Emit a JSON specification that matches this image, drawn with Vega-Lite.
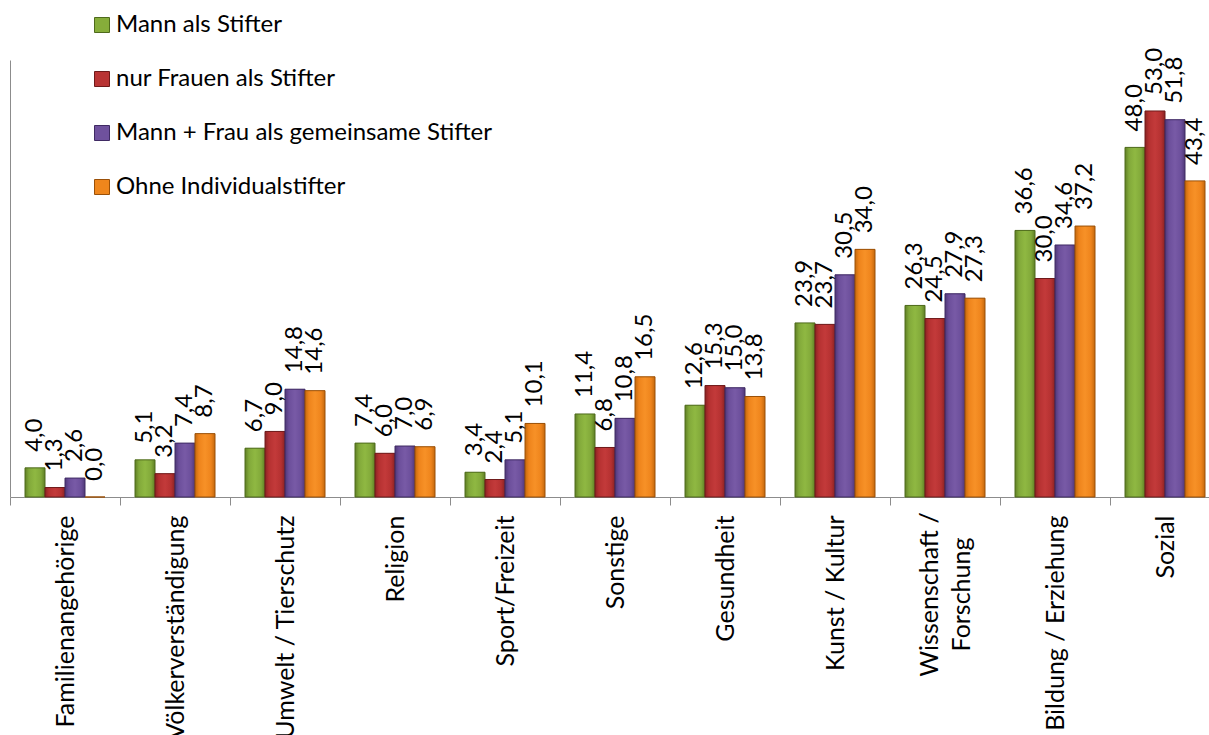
{
  "$schema": "https://vega.github.io/schema/vega-lite/v6.json",
  "width": 1210,
  "height": 437,
  "autosize": {"type": "none"},
  "padding": {"left": 10, "top": 60, "right": 0, "bottom": 238},
  "background": "white",
  "config": {
    "view": {"stroke": null},
    "font": "Lato",
    "locale": {"number": {"decimal": ",", "thousands": ".", "grouping": [3], "currency": ["", " €"]}}
  },
  "data": {
    "values": [
      {"cat": "Familienangehörige", "series": "Mann als Stifter", "v": 4.0},
      {"cat": "Familienangehörige", "series": "nur Frauen als Stifter", "v": 1.3},
      {"cat": "Familienangehörige", "series": "Mann + Frau als gemeinsame Stifter", "v": 2.6},
      {"cat": "Familienangehörige", "series": "Ohne Individualstifter", "v": 0.0},
      {"cat": "Völkerverständigung", "series": "Mann als Stifter", "v": 5.1},
      {"cat": "Völkerverständigung", "series": "nur Frauen als Stifter", "v": 3.2},
      {"cat": "Völkerverständigung", "series": "Mann + Frau als gemeinsame Stifter", "v": 7.4},
      {"cat": "Völkerverständigung", "series": "Ohne Individualstifter", "v": 8.7},
      {"cat": "Umwelt / Tierschutz", "series": "Mann als Stifter", "v": 6.7},
      {"cat": "Umwelt / Tierschutz", "series": "nur Frauen als Stifter", "v": 9.0},
      {"cat": "Umwelt / Tierschutz", "series": "Mann + Frau als gemeinsame Stifter", "v": 14.8},
      {"cat": "Umwelt / Tierschutz", "series": "Ohne Individualstifter", "v": 14.6},
      {"cat": "Religion", "series": "Mann als Stifter", "v": 7.4},
      {"cat": "Religion", "series": "nur Frauen als Stifter", "v": 6.0},
      {"cat": "Religion", "series": "Mann + Frau als gemeinsame Stifter", "v": 7.0},
      {"cat": "Religion", "series": "Ohne Individualstifter", "v": 6.9},
      {"cat": "Sport/Freizeit", "series": "Mann als Stifter", "v": 3.4},
      {"cat": "Sport/Freizeit", "series": "nur Frauen als Stifter", "v": 2.4},
      {"cat": "Sport/Freizeit", "series": "Mann + Frau als gemeinsame Stifter", "v": 5.1},
      {"cat": "Sport/Freizeit", "series": "Ohne Individualstifter", "v": 10.1},
      {"cat": "Sonstige", "series": "Mann als Stifter", "v": 11.4},
      {"cat": "Sonstige", "series": "nur Frauen als Stifter", "v": 6.8},
      {"cat": "Sonstige", "series": "Mann + Frau als gemeinsame Stifter", "v": 10.8},
      {"cat": "Sonstige", "series": "Ohne Individualstifter", "v": 16.5},
      {"cat": "Gesundheit", "series": "Mann als Stifter", "v": 12.6},
      {"cat": "Gesundheit", "series": "nur Frauen als Stifter", "v": 15.3},
      {"cat": "Gesundheit", "series": "Mann + Frau als gemeinsame Stifter", "v": 15.0},
      {"cat": "Gesundheit", "series": "Ohne Individualstifter", "v": 13.8},
      {"cat": "Kunst / Kultur", "series": "Mann als Stifter", "v": 23.9},
      {"cat": "Kunst / Kultur", "series": "nur Frauen als Stifter", "v": 23.7},
      {"cat": "Kunst / Kultur", "series": "Mann + Frau als gemeinsame Stifter", "v": 30.5},
      {"cat": "Kunst / Kultur", "series": "Ohne Individualstifter", "v": 34.0},
      {"cat": "Wissenschaft / Forschung", "series": "Mann als Stifter", "v": 26.3},
      {"cat": "Wissenschaft / Forschung", "series": "nur Frauen als Stifter", "v": 24.5},
      {"cat": "Wissenschaft / Forschung", "series": "Mann + Frau als gemeinsame Stifter", "v": 27.9},
      {"cat": "Wissenschaft / Forschung", "series": "Ohne Individualstifter", "v": 27.3},
      {"cat": "Bildung / Erziehung", "series": "Mann als Stifter", "v": 36.6},
      {"cat": "Bildung / Erziehung", "series": "nur Frauen als Stifter", "v": 30.0},
      {"cat": "Bildung / Erziehung", "series": "Mann + Frau als gemeinsame Stifter", "v": 34.6},
      {"cat": "Bildung / Erziehung", "series": "Ohne Individualstifter", "v": 37.2},
      {"cat": "Sozial", "series": "Mann als Stifter", "v": 48.0},
      {"cat": "Sozial", "series": "nur Frauen als Stifter", "v": 53.0},
      {"cat": "Sozial", "series": "Mann + Frau als gemeinsame Stifter", "v": 51.8},
      {"cat": "Sozial", "series": "Ohne Individualstifter", "v": 43.4}
    ]
  },
  "encoding": {
    "x": {
      "field": "cat", "type": "nominal", "sort": null,
      "scale": {"paddingInner": 0, "paddingOuter": 0},
      "axis": {
        "title": null, "tickBand": "extent", "labelAngle": 270, "labelBaseline": "middle",
        "labelAlign": {"condition": {"test": "datum.value == 'Wissenschaft / Forschung'", "value": "center"}, "value": "right"},
        "labelPadding": {"condition": {"test": "datum.value == 'Wissenschaft / Forschung'", "value": 89}, "value": 10},
        "labelOffset": {"condition": {"test": "datum.value == 'Wissenschaft / Forschung'", "value": -16}, "value": 0},
        "labelFontSize": 25, "labelLineHeight": 32, "labelColor": "black", "labelLimit": 0,
        "domainColor": "#8c8c8c", "tickColor": "#8c8c8c", "tickSize": 8, "grid": false,
        "labelExpr": "datum.value == 'Wissenschaft / Forschung' ? ['Wissenschaft /', 'Forschung'] : datum.value"
      }
    },
    "xOffset": {
      "field": "series", "type": "nominal", "sort": ["Mann als Stifter", "nur Frauen als Stifter", "Mann + Frau als gemeinsame Stifter", "Ohne Individualstifter"],
      "scale": {"paddingInner": 0, "paddingOuter": 0.75}
    },
    "y": {
      "field": "v", "type": "quantitative",
      "scale": {"domain": [0, 60], "nice": false, "zero": true},
      "axis": {"title": null, "labels": false, "ticks": false, "grid": false, "domainColor": "#8c8c8c"}
    }
  },
  "layer": [
    {
      "mark": {"type": "bar", "strokeWidth": 0},
      "encoding": {
        "color": {
          "field": "series", "type": "nominal",
          "sort": ["Mann als Stifter", "nur Frauen als Stifter", "Mann + Frau als gemeinsame Stifter", "Ohne Individualstifter"],
          "scale": {"domain": ["Mann als Stifter", "nur Frauen als Stifter", "Mann + Frau als gemeinsame Stifter", "Ohne Individualstifter"],
                    "range": ["#86ad3a", "#b93434", "#6f519d", "#ef861c"]},
          "legend": {
            "title": null, "orient": "none", "legendX": 80, "legendY": -47, "direction": "vertical",
            "symbolType": "square", "symbolSize": 225, "symbolStrokeWidth": 1, "symbolStrokeColor": "#444444",
            "labelFontSize": 24, "labelColor": "black", "labelOffset": 2, "rowPadding": 30, "labelLimit": 0
          }
        }
      }
    },
    {
      "mark": {"type": "bar", "strokeWidth": 1},
      "encoding": {
        "fill": {
          "condition": [
            {"test": "datum.series == 'Mann als Stifter'", "value": {"gradient": "linear", "x1": 0, "y1": 0, "x2": 1, "y2": 0, "stops": [{"offset": 0, "color": "#5f7f24"}, {"offset": 0.2, "color": "#82a93a"}, {"offset": 0.5, "color": "#8fb842"}, {"offset": 0.8, "color": "#82a93a"}, {"offset": 1, "color": "#5f7f24"}]}},
            {"test": "datum.series == 'nur Frauen als Stifter'", "value": {"gradient": "linear", "x1": 0, "y1": 0, "x2": 1, "y2": 0, "stops": [{"offset": 0, "color": "#8a2222"}, {"offset": 0.2, "color": "#b53131"}, {"offset": 0.5, "color": "#c33a3a"}, {"offset": 0.8, "color": "#b53131"}, {"offset": 1, "color": "#8a2222"}]}},
            {"test": "datum.series == 'Mann + Frau als gemeinsame Stifter'", "value": {"gradient": "linear", "x1": 0, "y1": 0, "x2": 1, "y2": 0, "stops": [{"offset": 0, "color": "#4f3878"}, {"offset": 0.2, "color": "#6c4f9b"}, {"offset": 0.5, "color": "#785aa6"}, {"offset": 0.8, "color": "#6c4f9b"}, {"offset": 1, "color": "#4f3878"}]}}
          ],
          "value": {"gradient": "linear", "x1": 0, "y1": 0, "x2": 1, "y2": 0, "stops": [{"offset": 0, "color": "#c4680c"}, {"offset": 0.2, "color": "#ee841c"}, {"offset": 0.5, "color": "#f79127"}, {"offset": 0.8, "color": "#ee841c"}, {"offset": 1, "color": "#c4680c"}]}
        },
        "stroke": {
          "field": "series", "type": "nominal",
          "scale": {"domain": ["Mann als Stifter", "nur Frauen als Stifter", "Mann + Frau als gemeinsame Stifter", "Ohne Individualstifter"],
                    "range": ["#4e6a1c", "#6e1a1a", "#3f2a63", "#9a5008"]},
          "legend": null
        }
      }
    },
    {
      "mark": {"type": "text", "angle": 270, "align": "left", "baseline": "middle", "dx": 16, "fontSize": 24, "color": "black"},
      "encoding": {
        "text": {"field": "v", "type": "quantitative", "format": ".1f"}
      }
    }
  ]
}
